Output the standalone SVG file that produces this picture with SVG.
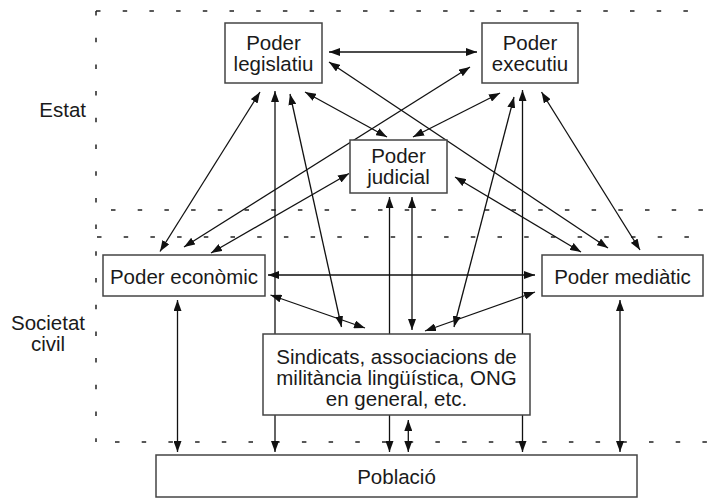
<svg xmlns="http://www.w3.org/2000/svg" width="707" height="498" viewBox="0 0 707 498">
<defs>
<style>
.box{fill:#fff;stroke:#444;stroke-width:1.5}
.t{font-family:"Liberation Sans",Arial,sans-serif;font-size:20.5px;fill:#1a1a1a;text-anchor:middle}
.c line{stroke:#111;stroke-width:1.3;marker-start:url(#ah);marker-end:url(#ah)}
.d{stroke:#222;stroke-width:1.5;fill:none;stroke-dasharray:4.5 22.2}
</style>
<marker id="ah" markerUnits="userSpaceOnUse" markerWidth="11" markerHeight="8" viewBox="0 0 11 8" refX="11" refY="4" orient="auto-start-reverse">
<path d="M0,0 L11,4 L0,8 Z" fill="#111"/>
</marker>
</defs>
<rect width="707" height="498" fill="#fff"/>
<g id="zones">
<path class="d" d="M96,11 L700,11"/>
<path class="d" d="M96,11 L96,442"/>
<path class="d" d="M111,210 L707,210"/>
<path class="d" d="M97,237 L707,237"/>
<path class="d" d="M115,442 L707,442"/>
<text class="t" x="86" y="117" style="text-anchor:end">Estat</text>
<text class="t" x="48" y="329.5">Societat</text>
<text class="t" x="48" y="350.5">civil</text>
</g>
<g id="connectors" class="c">
<line x1="329" y1="52" x2="477" y2="52"/>
<line x1="329" y1="62" x2="608" y2="248"/>
<line x1="260" y1="92" x2="160" y2="251.5"/>
<line x1="275" y1="91" x2="275" y2="452"/>
<line x1="290" y1="94" x2="341.5" y2="327"/>
<line x1="305" y1="92" x2="387" y2="137"/>
<line x1="470" y1="67" x2="184" y2="247"/>
<line x1="500" y1="93" x2="413" y2="137"/>
<line x1="514" y1="97" x2="454" y2="327"/>
<line x1="522.5" y1="90" x2="522.5" y2="452"/>
<line x1="541.5" y1="92" x2="640" y2="250"/>
<line x1="455" y1="177" x2="581" y2="252"/>
<line x1="349" y1="173.5" x2="211" y2="253"/>
<line x1="389.5" y1="197" x2="389.5" y2="452"/>
<line x1="412" y1="197" x2="412" y2="330"/>
<line x1="408.3" y1="420" x2="408.3" y2="452"/>
<line x1="268" y1="275" x2="535" y2="275"/>
<line x1="270.5" y1="295" x2="365" y2="328"/>
<line x1="535" y1="292" x2="425" y2="331"/>
<line x1="177.5" y1="300" x2="177.5" y2="452"/>
<line x1="620" y1="300" x2="620" y2="452"/>
</g>
<g id="legislatiu">
<rect class="box" x="225" y="23" width="97" height="60"/>
<text class="t" x="273.5" y="50">Poder</text>
<text class="t" x="273.5" y="71">legislatiu</text>
</g>
<g id="executiu">
<rect class="box" x="482" y="23" width="96" height="60"/>
<text class="t" x="530" y="50">Poder</text>
<text class="t" x="530" y="71">executiu</text>
</g>
<g id="judicial">
<rect class="box" x="350" y="140" width="97" height="53"/>
<text class="t" x="398.5" y="162.5">Poder</text>
<text class="t" x="398.5" y="183.5">judicial</text>
</g>
<g id="economic">
<rect class="box" x="103" y="255" width="162" height="41"/>
<text class="t" x="184" y="284">Poder econòmic</text>
</g>
<g id="mediatic">
<rect class="box" x="542" y="255" width="161" height="41"/>
<text class="t" x="622.5" y="284">Poder mediàtic</text>
</g>
<g id="sindicats">
<rect class="box" x="263" y="334" width="267" height="81"/>
<text class="t" x="396.5" y="364">Sindicats, associacions de</text>
<text class="t" x="396.5" y="385">militància lingüística, ONG</text>
<text class="t" x="396.5" y="406">en general, etc.</text>
</g>
<g id="poblacio">
<rect class="box" x="156" y="455" width="481" height="42"/>
<text class="t" x="396.5" y="484">Població</text>
</g>
</svg>
